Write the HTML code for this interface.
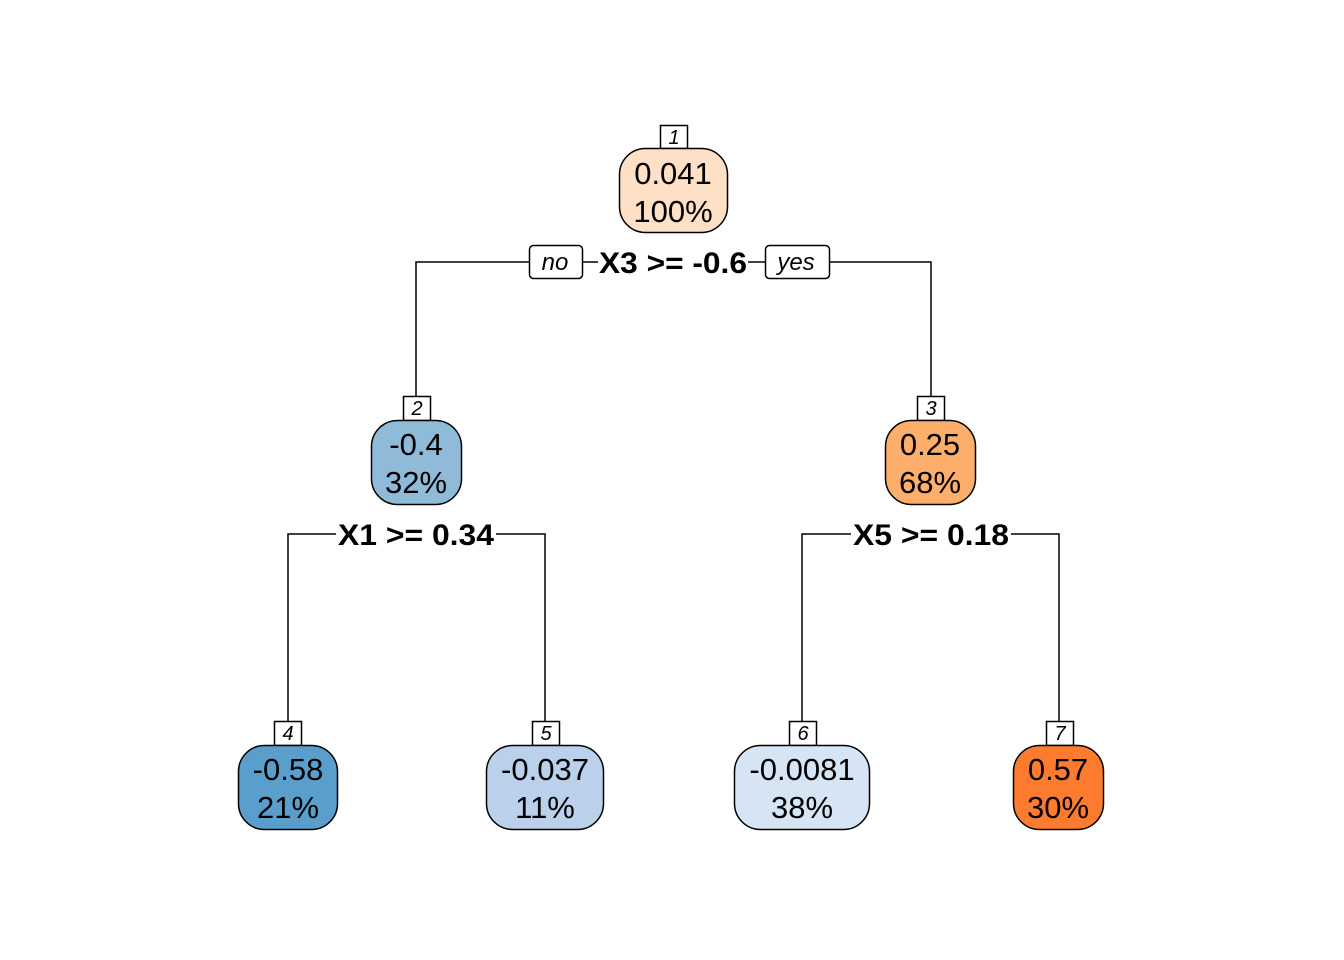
<!DOCTYPE html>
<html><head><meta charset="utf-8"><style>html,body{margin:0;padding:0;background:#fff}svg{display:block}</style></head>
<body>
<svg width="1344" height="960" viewBox="0 0 1344 960" xmlns="http://www.w3.org/2000/svg" font-family="Liberation Sans, Arial, sans-serif">
<g stroke="#000" stroke-width="1.5" fill="none">
<polyline points="416,396 416,262 931,262 931,396"/>
<polyline points="288,721 288,534 545,534 545,721"/>
<polyline points="802,721 802,534 1059,534 1059,721"/>
</g>
<g fill="#fff">
<rect x="598" y="245" width="150" height="34"/>
<rect x="336" y="517" width="160" height="34"/>
<rect x="851" y="517" width="160" height="34"/>
</g>
<g font-weight="bold" font-size="30" fill="#000">
<text x="599" y="273" textLength="148" lengthAdjust="spacingAndGlyphs">X3 &gt;= -0.6</text>
<text x="338" y="545" textLength="156" lengthAdjust="spacingAndGlyphs">X1 &gt;= 0.34</text>
<text x="853" y="545" textLength="156" lengthAdjust="spacingAndGlyphs">X5 &gt;= 0.18</text>
</g>
<g stroke="#000" stroke-width="1.5" fill="#fff">
<rect x="529.5" y="245.5" width="53" height="33" rx="4"/>
<rect x="765.5" y="245.5" width="64" height="33" rx="4"/>
</g>
<g font-style="italic" font-size="24" text-anchor="middle">
<text x="555" y="270">no</text>
<text x="796" y="270">yes</text>
</g>
<g stroke="#000" stroke-width="1.5">
<rect x="660.5" y="125.5" width="27" height="23" fill="#fff"/>
<rect x="403.5" y="396.5" width="27" height="24" fill="#fff"/>
<rect x="917.5" y="396.5" width="27" height="24" fill="#fff"/>
<rect x="274.5" y="721.5" width="27" height="24" fill="#fff"/>
<rect x="532.5" y="721.5" width="27" height="24" fill="#fff"/>
<rect x="789.5" y="721.5" width="27" height="24" fill="#fff"/>
<rect x="1046.5" y="721.5" width="27" height="24" fill="#fff"/>
<rect x="619.5" y="148.5" width="108" height="84" rx="26" fill="#FDE0C5"/>
<rect x="371.5" y="420.5" width="90" height="84" rx="26" fill="#8FBBD9"/>
<rect x="885.5" y="420.5" width="90" height="84" rx="26" fill="#FDAE6B"/>
<rect x="238.5" y="745.5" width="99" height="84" rx="26" fill="#5A9FCC"/>
<rect x="486.5" y="745.5" width="117" height="84" rx="26" fill="#BAD0EB"/>
<rect x="734.5" y="745.5" width="135" height="84" rx="26" fill="#D6E5F4"/>
<rect x="1013.5" y="745.5" width="90" height="84" rx="26" fill="#FD7B2E"/>
</g>
<g font-style="italic" font-size="20" text-anchor="middle">
<text x="674" y="144">1</text>
<text x="417" y="415">2</text>
<text x="931" y="415">3</text>
<text x="288" y="740">4</text>
<text x="546" y="740">5</text>
<text x="803" y="740">6</text>
<text x="1060" y="740">7</text>
</g>
<g font-size="31" text-anchor="middle" fill="#000">
<text x="673" y="184">0.041</text><text x="673" y="222">100%</text>
<text x="416" y="455">-0.4</text><text x="416" y="493">32%</text>
<text x="930" y="455">0.25</text><text x="930" y="493">68%</text>
<text x="288" y="780">-0.58</text><text x="288" y="818">21%</text>
<text x="545" y="780">-0.037</text><text x="545" y="818">11%</text>
<text x="802" y="780">-0.0081</text><text x="802" y="818">38%</text>
<text x="1058" y="780">0.57</text><text x="1058" y="818">30%</text>
</g>
</svg>
</body></html>
